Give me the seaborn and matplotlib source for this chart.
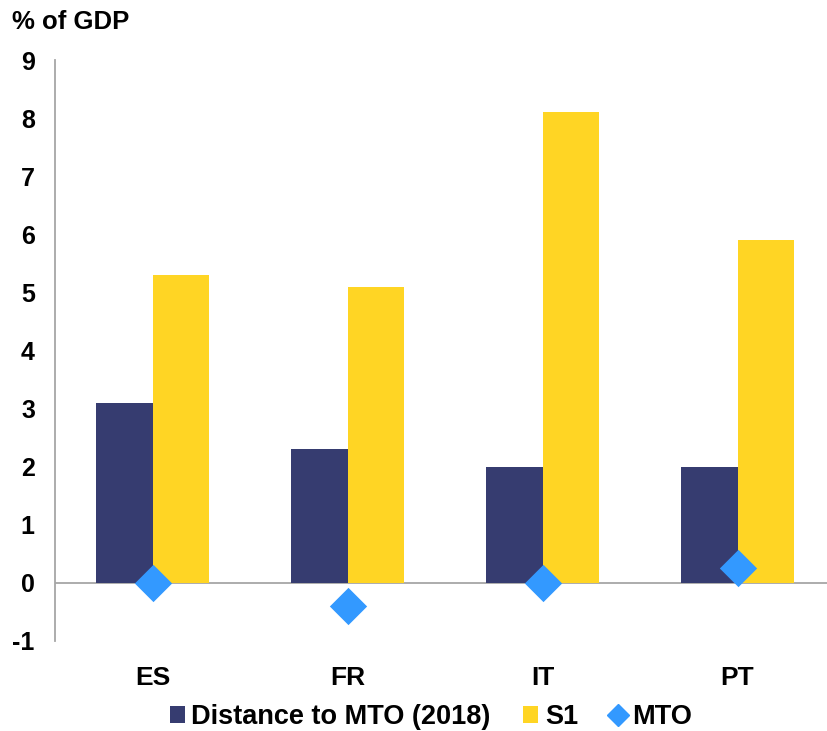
import matplotlib
matplotlib.use("Agg")
import matplotlib.pyplot as plt
from matplotlib.patches import Patch
from matplotlib.lines import Line2D
import seaborn as sns
import pandas as pd

countries = ["ES", "FR", "IT", "PT"]
distance_to_mto = [3.1, 2.3, 2.0, 2.0]
s1 = [5.3, 5.1, 8.1, 5.9]
mto = [0.0, -0.4, 0.0, 0.25]
y_ticks = [-1, 0, 1, 2, 3, 4, 5, 6, 7, 8, 9]

series_names = ["Distance to MTO (2018)", "S1", "MTO"]
navy = "#363c70"
yellow = "#ffd524"
blue = "#3399ff"
axis_grey = "#a6a6a6"

sns.set_theme(style="white")
plt.rcParams["font.family"] = ["Liberation Sans", "DejaVu Sans"]
plt.rcParams["font.weight"] = "bold"
plt.rcParams["text.color"] = "black"
plt.rcParams["xtick.color"] = "black"
plt.rcParams["ytick.color"] = "black"

bars = pd.DataFrame({
    "country": countries * 2,
    "value": distance_to_mto + s1,
    "series": [series_names[0]] * len(countries) + [series_names[1]] * len(countries),
})
points = pd.DataFrame({"country": countries, "value": mto})

fig = plt.figure(figsize=(8.27, 7.31), dpi=100)
ax = fig.add_axes([55 / 827, 90 / 731, 780 / 827, 581 / 731])

sns.barplot(data=bars, x="country", y="value", hue="series", order=countries,
            hue_order=series_names[:2], palette=[navy, yellow], width=0.575,
            gap=0, saturation=1, errorbar=None, legend=False, linewidth=0,
            ax=ax, zorder=2)

ax.axhline(0, color=axis_grey, lw=1.3, zorder=1)

sns.stripplot(data=points, x="country", y="value", order=countries, jitter=False,
              marker="D", size=19, color=blue, linewidth=0, ax=ax, zorder=4)

ax.set_xlim(-0.5, 3.5)
ax.set_ylim(-1, 9)
ax.set_yticks(y_ticks)
ax.set_yticklabels([str(v) for v in y_ticks])
ax.set_xlabel("")
ax.set_ylabel("")
ax.tick_params(axis="y", length=0, pad=14.5, labelsize=18)
ax.tick_params(axis="x", length=0, pad=18, labelsize=19)
for lbl in ax.get_xticklabels() + ax.get_yticklabels():
    lbl.set_fontweight("bold")

for side in ["top", "right", "bottom"]:
    ax.spines[side].set_visible(False)
ax.spines["left"].set_color(axis_grey)
ax.spines["left"].set_linewidth(1.3)
ax.grid(False)

fig.text(12 / 827, 1 - 22 / 731, "% of GDP", fontsize=18.5, fontweight="bold",
         va="center", ha="left")

handles = [
    Patch(facecolor=navy, edgecolor="none"),
    Patch(facecolor=yellow, edgecolor="none"),
    Line2D([], [], marker="D", color=blue, linestyle="none", markersize=11),
]
fig.legend(handles, series_names, loc="center", bbox_to_anchor=(431 / 827, 1 - 717 / 731),
           ncol=3, frameon=False, prop={"size": 19.5, "weight": "bold"},
           handlelength=0.55, handleheight=0.55, handletextpad=0.25, columnspacing=1.2,
           borderpad=0, borderaxespad=0)

fig.savefig("out.png", dpi=100)
